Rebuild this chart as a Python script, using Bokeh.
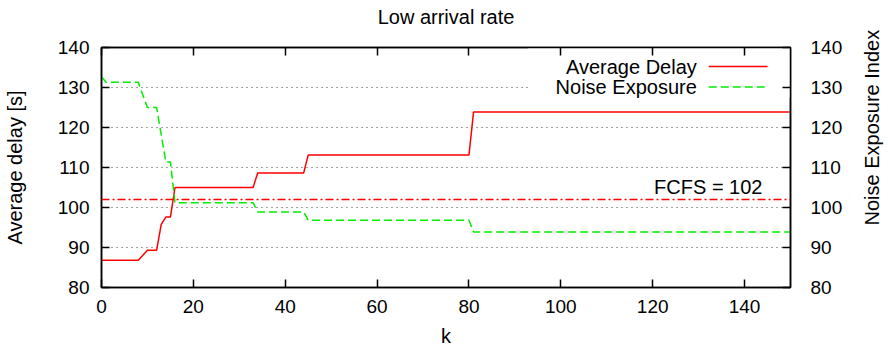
from bokeh.plotting import figure
from bokeh.layouts import row
from bokeh.models import (LinearAxis, Span, Label, BoxAnnotation, Arrow, Title,
                          FixedTicker, Range1d)
from bokeh.embed import file_html
from bokeh.resources import INLINE

FONT = "Liberation Sans"

# ---- data ----
title_text = "Low arrival rate"
x_label = "k"
y_label_left = "Average delay [s]"
y_label_right = "Noise Exposure Index"
x_ticks = [0, 20, 40, 60, 80, 100, 120, 140]
y_ticks = [80, 90, 100, 110, 120, 130, 140]

k_delay = [0, 8, 10, 12, 13, 14, 15, 16, 33, 34, 44, 45, 80, 81, 150]
avg_delay = [86.8, 86.8, 89.3, 89.3, 95.8, 97.6, 97.6, 105.0, 105.0, 108.6,
             108.6, 113.1, 113.1, 123.9, 123.9]

k_noise = [0, 1, 8, 10, 12, 14, 15, 16, 33, 34, 44, 45, 80, 81, 150]
noise_exposure = [132.7, 131.3, 131.3, 125.0, 125.0, 111.4, 111.4, 101.2, 101.2,
                  98.9, 98.9, 96.8, 96.8, 93.9, 93.9]

fcfs_value = 102
fcfs_text = "FCFS = 102"
series_names = ["Average Delay", "Noise Exposure"]

RED = "#ff0000"
GREEN = "#00ee00"

p = figure(width=858, height=349, x_range=Range1d(0, 150), y_range=Range1d(80, 140),
           output_backend="svg", toolbar_location=None, title=None,
           min_border_left=99, min_border_right=68, min_border_top=46,
           min_border_bottom=62)
p.background_fill_color = "white"
p.border_fill_color = "white"
p.outline_line_color = "black"
p.outline_line_width = 1.5


def style_axis(ax):
    ax.major_tick_in = 8
    ax.major_tick_out = 0
    ax.minor_tick_in = 0
    ax.minor_tick_out = 0
    ax.major_tick_line_width = 1.5
    ax.major_tick_line_color = "black"
    ax.axis_line_color = "black"
    ax.axis_line_width = 1.5
    ax.major_label_text_font = FONT
    ax.major_label_text_font_size = "19px"
    ax.major_label_text_color = "black"
    ax.axis_label_text_font = FONT
    ax.axis_label_text_font_size = "20px"
    ax.axis_label_text_font_style = "normal"
    ax.axis_label_text_color = "black"


xa = p.xaxis[0]
xa.ticker = FixedTicker(ticks=x_ticks)
xa.axis_label = x_label
style_axis(xa)
xa.major_label_standoff = 12
xa.axis_label_standoff = 9

ya = p.yaxis[0]
ya.ticker = FixedTicker(ticks=y_ticks)
ya.axis_label = y_label_left
style_axis(ya)
ya.major_label_standoff = 12
ya.axis_label_standoff = 29

# mirrored ticks on top (no labels)
top = LinearAxis(ticker=FixedTicker(ticks=x_ticks))
style_axis(top)
top.major_label_overrides = {t: "" for t in x_ticks}
top.major_label_standoff = 0
p.add_layout(top, "above")

# invisible spacer between the frame and the title
spacer = LinearAxis(ticker=FixedTicker(ticks=x_ticks))
style_axis(spacer)
spacer.axis_line_color = None
spacer.major_tick_line_color = None
spacer.major_tick_in = 0
spacer.major_tick_out = 16
spacer.major_label_overrides = {t: "" for t in x_ticks}
spacer.major_label_standoff = 0
p.add_layout(spacer, "above")

t = Title(text=title_text, align="center", text_font=FONT, text_font_size="20px",
          text_font_style="normal", text_color="black", standoff=7)
p.add_layout(t, "above")

# mirrored ticks + labels on the right
right = LinearAxis(ticker=FixedTicker(ticks=y_ticks))
style_axis(right)
right.major_label_standoff = 20
p.add_layout(right, "right")

p.xgrid.visible = False
p.ygrid.ticker = FixedTicker(ticks=y_ticks)
p.ygrid.grid_line_color = "#444444"
p.ygrid.grid_line_dash = "1 4"
p.ygrid.grid_line_width = 1

# legend background (covers grid inside legend area)
box = BoxAnnotation(left=92.9, right=150, bottom=127.5, top=140, fill_color="white",
                    fill_alpha=1.0, line_color=None, level="underlay")
p.add_layout(box)

p.line(k_delay, avg_delay, line_color=RED, line_width=1.5)
p.line(k_noise, noise_exposure, line_color=GREEN, line_width=1.5, line_dash="8 4")

p.add_layout(Span(location=fcfs_value, dimension="width", line_color=RED,
                  line_width=1.5, line_dash="8 3 2 3"))
p.add_layout(Label(x=143.9, y=105.15, text=fcfs_text, text_align="right",
                   text_baseline="middle", text_font=FONT, text_font_size="20px",
                   text_color="black"))

# manual legend (text left, sample right, as in the reference)
p.add_layout(Label(x=129.6, y=135.2, text=series_names[0], text_align="right",
                   text_baseline="middle", text_font=FONT, text_font_size="20px",
                   text_color="black"))
p.add_layout(Label(x=129.6, y=130.17, text=series_names[1], text_align="right",
                   text_baseline="middle", text_font=FONT, text_font_size="20px",
                   text_color="black"))
p.add_layout(Arrow(x_start=132.2, y_start=135.27, x_end=145.0, y_end=135.27, start=None,
                   end=None, line_color=RED, line_width=1.5))
p.add_layout(Arrow(x_start=132.2, y_start=130.1, x_end=145.0, y_end=130.1, start=None,
                   end=None, line_color=GREEN, line_width=1.5, line_dash="8 4"))

# narrow companion figure that carries the right-hand axis title
p2 = figure(width=30, height=349, output_backend="svg", toolbar_location=None,
            title=None, x_axis_location=None, y_axis_location=None,
            x_range=Range1d(0, 1), y_range=Range1d(80, 140),
            min_border_left=22, min_border_right=0,
            min_border_top=46, min_border_bottom=62)
p2.outline_line_color = None
p2.grid.visible = False
p2.background_fill_color = "white"
p2.border_fill_color = "white"
rt = Title(text=y_label_right, align="left", offset=62, standoff=0,
           text_font=FONT, text_font_size="20px", text_font_style="normal",
           text_color="black")
p2.add_layout(rt, "left")

layout = row(p, p2, spacing=0)
open("out.html", "w").write(file_html(layout, INLINE))
